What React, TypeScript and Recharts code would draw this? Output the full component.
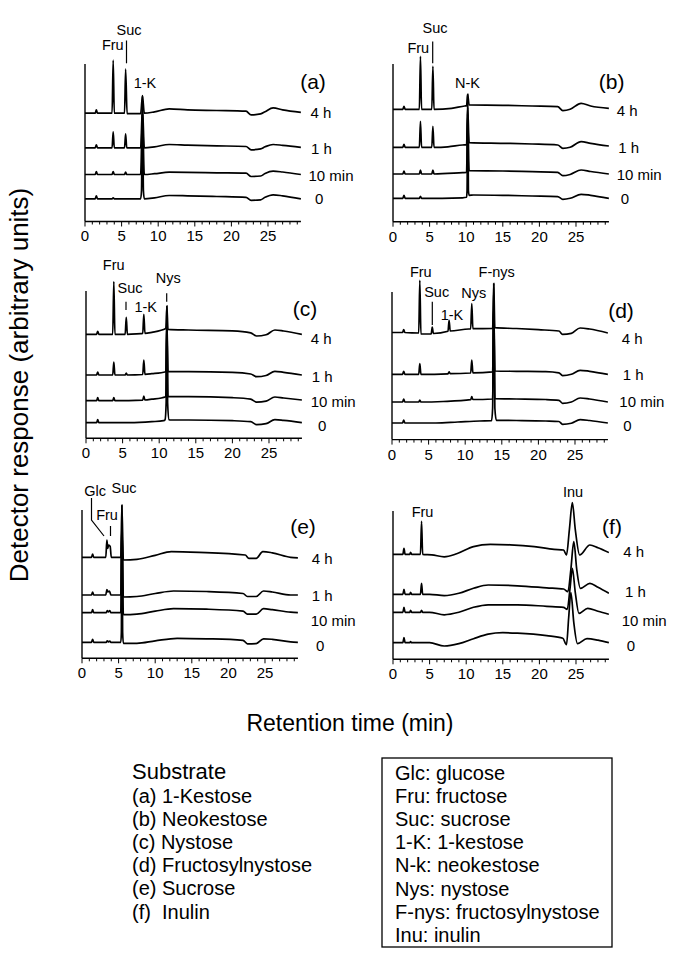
import React from 'react';
import { LineChart, Line, XAxis, YAxis, ReferenceLine } from 'recharts';

type Pt = [number, number];

const FONT = '"Liberation Sans", Arial, Helvetica, sans-serif';

// x-axis ticks (minutes)
const xTicks = [0, 1, 2, 3, 4, 5, 6, 7, 8, 9, 10, 11, 12, 13, 14, 15, 16, 17, 18, 19, 20, 21, 22, 23, 24, 25, 26, 27, 28, 29];
const xMax = 29.5;

// trace order in every panel: 0, 10 min, 1 h, 4 h
const timeLabels = ['0', '10 min', '1 h', '4 h'];

// ---------- Panel (a) 1-Kestose ----------
const offsetsA = [22.7, 47, 73.7, 108.3];
const a0: Pt[] = [[0,0],[1.4,0],[1.55,3],[1.7,0],[3.7,0],[3.85,1],[4.0,0],[7.6,0],[7.72,8],[7.85,103],[7.98,8],[8.1,0],[9.5,1],[11.5,3.3],[14,3],[18,2.3],[22,1.5],[22.7,-1.5],[24,-1],[24.6,1.5],[25.7,4],[27,3],[29.5,0]];
const a10: Pt[] = [[0,0],[1.4,0],[1.55,3],[1.7,0],[3.7,0],[3.85,3],[4.0,0],[5.4,0],[5.55,2.5],[5.7,0],[7.6,0],[7.85,60],[8.1,0],[9.5,0.8],[11.5,2.3],[14,2.2],[18,1.7],[22,1.3],[22.7,-2],[24,-1.5],[24.6,1],[25.7,3.3],[27,2.5],[29.5,0]];
const a1h: Pt[] = [[0,0],[1.4,0],[1.55,3],[1.7,0],[3.7,0],[3.85,16],[4.0,0],[5.4,0],[5.55,14],[5.7,0],[7.6,0],[7.85,40],[8.1,0],[9.5,1],[11.5,3.3],[14,2.7],[18,2],[22,1.3],[22.7,-2],[24,-1],[24.6,1],[25.7,3.3],[27,2.5],[29.5,0.5]];
const a4h: Pt[] = [[0,0],[1.4,0],[1.55,3.3],[1.7,0],[3.7,0],[3.85,53],[4.0,0],[5.4,0],[5.55,44],[5.75,-0.5],[7.6,-0.5],[7.85,17.5],[8.1,0],[9.5,1.3],[11.5,4.3],[14,3.3],[18,2.7],[22,2],[22.7,-1.7],[24,-0.7],[24.6,1.5],[25.7,5.3],[27,3.3],[29.5,0.8]];

// ---------- Panel (b) Neokestose ----------
const offsetsB = [23.4, 47.7, 74.4, 112.4];
const b0: Pt[] = [[0,0],[1.35,0],[1.5,3],[1.65,0],[3.6,0],[3.75,2],[3.9,0],[9.5,0.5],[10.05,1],[10.12,8],[10.2,104],[10.3,8],[10.4,3],[11,3.3],[15,3],[19,2.3],[22.5,1.7],[23.2,-1],[24.2,0],[25.7,4],[27,3],[29.5,0]];
const b10: Pt[] = [[0,0],[1.35,0],[1.5,3],[1.65,0],[3.6,0],[3.75,4],[3.9,0],[5.3,0],[5.45,4],[5.6,0],[9.5,1.3],[10.05,1.5],[10.2,60],[10.4,3.3],[15,3],[19,2.3],[22.5,1.7],[23.2,-1.7],[24.2,-0.5],[25.7,4],[27,2.5],[29.5,0]];
const b1h: Pt[] = [[0,0],[1.35,0],[1.5,3],[1.65,0],[3.6,0],[3.75,26],[3.9,0],[5.3,0],[5.45,21],[5.6,0],[7.5,0.5],[9.5,2.3],[10.05,2.5],[10.2,40],[10.4,4.7],[15,4],[19,3.3],[22.5,2.3],[23.2,-1],[24.2,0],[25.7,5.7],[27,4],[29.5,1.3]];
const b4h: Pt[] = [[0,0],[1.35,0],[1.5,3],[1.65,0],[3.6,0],[3.75,53],[3.9,0],[5.3,0],[5.45,43],[5.6,0],[8,1],[9.8,3.3],[10.05,3.5],[10.2,15],[10.4,4.3],[15,4],[19,3.3],[22.5,2.7],[23.2,-1.3],[24.2,0],[25.7,6],[27,3.3],[29.5,1]];

// ---------- Panel (c) Nystose ----------
const offsetsC = [15.6, 37.6, 63.3, 104];
const c0: Pt[] = [[0,0],[1.45,0],[1.6,3],[1.75,0],[6,0],[9,1],[10.6,2],[10.8,3],[10.95,20],[11.05,116.7],[11.15,20],[11.35,3],[11.6,2.7],[14,2.7],[20,2],[22.5,1],[23.3,-2],[24.6,-1],[25.8,3],[27,2.3],[29.5,0]];
const c10: Pt[] = [[0,0],[1.45,0],[1.6,3],[1.75,0],[3.65,0],[3.8,3],[3.95,0],[7.75,0.5],[7.9,4.5],[8.05,0.7],[9,1.5],[10.9,4],[11.05,80],[11.2,4],[14,4],[20,3],[22.5,1.5],[23.3,-1.5],[24.6,-0.5],[25.8,3.7],[27,2.7],[29.5,0.7]];
const c1h: Pt[] = [[0,0],[1.45,0],[1.6,3],[1.75,0],[3.65,0],[3.8,13],[3.95,0],[5.35,0],[5.5,2],[5.65,0],[7.75,0.5],[7.9,15],[8.05,0.7],[9,1.3],[10.9,3.3],[11.05,55],[11.2,3.3],[14,3.3],[20,2.7],[22.5,1],[23.3,-1.7],[24.6,-0.5],[25.8,3.7],[27,2.7],[29.5,0]];
const c4h: Pt[] = [[0,0],[1.45,0],[1.6,3],[1.75,0],[3.65,0],[3.8,52.7],[3.95,0],[5.35,0],[5.5,17],[5.65,0],[7.5,0.7],[7.75,0.8],[7.9,20],[8.05,1],[9,2],[10.9,5.7],[11.05,28.3],[11.2,5],[14,4.3],[20,3.5],[22.5,1.5],[23.3,-1.7],[24.6,-0.5],[25.8,4.3],[27,3.3],[29.5,0]];

// ---------- Panel (d) Fructosylnystose ----------
const offsetsD = [16.6, 37.6, 65.3, 106.6];
const d0: Pt[] = [[0,0],[1.45,0],[1.6,3],[1.75,0],[6,0],[9,1],[12,2],[13.6,2.3],[13.75,15],[13.9,139.4],[14.05,15],[14.25,2.7],[17,2.5],[21,2],[22.8,1.5],[23.3,-1.3],[24.5,-0.3],[25.7,3.3],[27,2.5],[29.5,0]];
const d10: Pt[] = [[0,0],[1.45,0],[1.6,3],[1.75,0],[3.65,0],[3.8,2],[3.95,0],[7,0.5],[10.75,2.3],[10.9,5.3],[11.05,2.5],[13.75,3],[13.9,100],[14.05,3.3],[17,3],[21,2.5],[22.8,1.7],[23.3,-1.3],[24.5,0],[25.7,4],[27,3],[29.5,0]];
const d1h: Pt[] = [[0,0],[1.45,0],[1.6,3],[1.75,0],[3.65,0],[3.8,10.7],[3.95,0],[7.65,0.5],[7.8,2.5],[7.95,0.7],[10.75,1.3],[10.9,14.3],[11.05,1.5],[13.75,2.5],[13.9,70],[14.05,3.3],[17,3],[21,2.7],[22.8,1.5],[23.3,-1.3],[24.5,0],[25.7,4],[27,3],[29.5,0]];
const d4h: Pt[] = [[0,0.5],[1.45,0.5],[1.6,3.5],[1.75,0.5],[3.65,0],[3.8,52.7],[3.95,-1],[5.35,-1],[5.5,6],[5.65,-0.5],[7.65,1.7],[7.8,12.7],[7.95,2],[10.5,4],[10.75,4],[10.9,29.3],[11.05,4.3],[13.75,4.5],[13.9,49.4],[14.05,5.3],[17,4.5],[20,3.3],[22.8,2],[23.3,-1.3],[24.5,-0.3],[25.7,5],[27,4],[29.5,0]];

// ---------- Panel (e) Sucrose ----------
const offsetsE = [16, 45.6, 63.3, 101];
const e0: Pt[] = [[0,0],[1.3,0],[1.45,3],[1.6,0],[3.3,0],[3.45,1.5],[3.6,0.5],[3.8,1.2],[3.95,0],[5.3,0],[5.38,10],[5.45,137],[5.55,10],[5.65,-1],[7.5,-1],[10,1.5],[13,4],[17,3.5],[22,2],[22.6,-1.5],[23.8,-1.3],[24.8,3.5],[26,3],[28.5,0.5],[29.5,0]];
const e10: Pt[] = [[0,0],[1.3,0],[1.45,3],[1.6,0],[3.3,0],[3.45,2],[3.6,0.8],[3.8,2],[3.95,0],[5.3,0],[5.45,95],[5.65,-2],[7.5,-1.5],[10,1.5],[12.5,4],[17,3.5],[22,1.5],[22.6,-1.5],[23.8,-1.5],[24.8,4],[26,3],[28.5,0.5],[29.5,0]];
const e1h: Pt[] = [[0,0],[1.3,0],[1.45,3],[1.6,0],[3.25,0],[3.4,5.5],[3.55,3],[3.75,4],[3.95,0],[5.3,0],[5.45,70],[5.65,-2],[7.5,-1.5],[10,1.5],[12.5,4],[17,3.5],[22,1.5],[22.6,-1.5],[23.8,-1.5],[24.8,4],[26,3],[28.5,0],[29.5,0]];
const e4h: Pt[] = [[0,0],[1.3,0],[1.45,3.3],[1.6,0],[3.25,0],[3.4,17.3],[3.52,9],[3.65,12.3],[3.85,11],[4.0,0],[5.3,0],[5.45,52.3],[5.65,-2.7],[7.5,-2],[10,2],[12.2,5.7],[16,5],[22.3,2.3],[22.8,-1],[23.8,-1],[24.7,5.7],[26,4.5],[28.5,0],[29.5,-0.5]];

// ---------- Panel (f) Inulin ----------
const offsetsF = [16.6, 47, 65, 105];
const f0: Pt[] = [[0,0],[1.35,0],[1.5,5],[1.65,0],[2.3,0],[2.4,1],[2.55,0],[5,0],[7,-3.3],[9,-1],[11,4],[13,8.5],[15,10],[17,9.5],[21,7],[23.2,4.4],[23.7,-2],[24.0,25],[24.3,50],[24.7,20],[25.2,-1],[26.5,4],[28,2.5],[29.5,0]];
const f10: Pt[] = [[0,0],[1.35,0],[1.5,5],[1.65,0],[2.3,0],[2.4,2],[2.55,0],[3.75,0],[3.9,2],[4.05,0],[5,0],[7,-2.5],[9,0],[11,5],[13,7.5],[17,7.5],[21,6],[23.3,5],[23.8,3],[24.2,25],[24.5,44],[24.9,20],[25.4,-1],[26.6,4],[28,1],[29.5,-2]];
const f1h: Pt[] = [[0,0],[1.35,0],[1.5,5],[1.65,0],[2.3,0],[2.4,2],[2.55,0],[3.75,0],[3.9,11],[4.05,0],[5,0],[7,-1.3],[9,1],[11,6],[13,9.3],[17,8.5],[21,6.5],[23.3,5.3],[23.9,2.7],[24.3,25],[24.7,52.6],[25.1,25],[25.6,6],[26.9,11],[28,7],[29.5,1]];
const f4h: Pt[] = [[0,0],[1.35,0],[1.5,6],[1.65,0],[2.3,0],[2.4,2],[2.55,0],[3.75,0],[3.9,33],[4.05,0],[5.3,-0.5],[7,-2.5],[8.7,0.5],[11,7.7],[13.3,10],[16,9.5],[19.3,7.7],[22,5],[23.3,4.3],[23.7,-0.7],[24.1,25],[24.5,51.6],[24.9,25],[25.5,-0.7],[26.9,9.3],[28,6.5],[29.5,1.7]];

// legend texts
const substrateItems = ['(a) 1-Kestose', '(b) Neokestose', '(c) Nystose', '(d) Fructosylnystose', '(e) Sucrose', '(f)  Inulin'];
const abbrevItems = ['Glc: glucose', 'Fru: fructose', 'Suc: sucrose', '1-K: 1-kestose', 'N-k: neokestose', 'Nys: nystose', 'F-nys: fructosylnystose', 'Inu: inulin'];

// ---------- layout (page pixels) ----------
const PX_PER_MIN = 7.32;
const EXTRA = 48;

type PanelCfg = {
  left: number; top: number; ph: number;
  traces: Pt[][]; offsets: number[];
  letter: string; letterPos: [number, number];
  timePos: [number, number][];
  peaks: { text: string; x: number; y: number }[];
  leaders: [number, number][][];
};

const panels: PanelCfg[] = [
  {
    left: 85, top: 63.5, ph: 157.5, traces: [a0, a10, a1h, a4h], offsets: offsetsA,
    letter: '(a)', letterPos: [313, 81],
    timePos: [[315, 198.5], [308.5, 175], [311, 148], [310.5, 112]],
    peaks: [{ text: 'Suc', x: 129, y: 30 }, { text: 'Fru', x: 112.8, y: 45 }, { text: '1-K', x: 145, y: 83 }],
    leaders: [[[126.5, 40.5], [126.5, 63.3]]],
  },
  {
    left: 392.7, top: 64, ph: 157.7, traces: [b0, b10, b1h, b4h], offsets: offsetsB,
    letter: '(b)', letterPos: [611.7, 81.7],
    timePos: [[620.7, 198.3], [616.7, 174], [618.3, 147.3], [616.7, 110]],
    peaks: [{ text: 'Suc', x: 435, y: 28.3 }, { text: 'Fru', x: 418.3, y: 48.3 }, { text: 'N-K', x: 467.5, y: 83.3 }],
    leaders: [[[432.7, 41.5], [432.7, 63.3]]],
  },
  {
    left: 85.7, top: 291, ph: 147.3, traces: [c0, c10, c1h, c4h], offsets: offsetsC,
    letter: '(c)', letterPos: [305, 308.3],
    timePos: [[318, 425], [310.7, 401.7], [311.7, 376.7], [310.7, 338.3]],
    peaks: [{ text: 'Fru', x: 113.7, y: 265 }, { text: 'Suc', x: 130, y: 288.3 }, { text: '1-K', x: 145.7, y: 306.7 }, { text: 'Nys', x: 168.3, y: 278.3 }],
    leaders: [[[126, 301.7], [126, 310]], [[166.7, 293.3], [166.7, 301.7]]],
  },
  {
    left: 391.7, top: 291.7, ph: 147.6, traces: [d0, d10, d1h, d4h], offsets: offsetsD,
    letter: '(d)', letterPos: [621, 310],
    timePos: [[623.3, 425], [619.3, 401.7], [622.7, 374], [621.7, 338.3]],
    peaks: [{ text: 'Fru', x: 420.8, y: 271.7 }, { text: 'Suc', x: 436.7, y: 291.7 }, { text: '1-K', x: 452, y: 315 }, { text: 'Nys', x: 473.8, y: 293.3 }, { text: 'F-nys', x: 496.7, y: 271.7 }],
    leaders: [[[432.3, 301.7], [432.3, 325]]],
  },
  {
    left: 81.5, top: 510, ph: 148.3, traces: [e0, e10, e1h, e4h], offsets: offsetsE,
    letter: '(e)', letterPos: [303, 526],
    timePos: [[316, 645], [310.7, 620], [311.7, 595.7], [311.7, 558.3]],
    peaks: [{ text: 'Glc', x: 95, y: 490.5 }, { text: 'Suc', x: 124, y: 488 }, { text: 'Fru', x: 107, y: 515 }],
    leaders: [[[91.5, 498], [91.5, 520], [104, 536]], [[110.5, 526], [110.5, 536]]],
  },
  {
    left: 393.3, top: 511, ph: 148.3, traces: [f0, f10, f1h, f4h], offsets: offsetsF,
    letter: '(f)', letterPos: [612, 526],
    timePos: [[626.7, 645], [621.7, 620], [625, 591.7], [623.3, 551.7]],
    peaks: [{ text: 'Fru', x: 422.5, y: 511.7 }, { text: 'Inu', x: 573, y: 491.7 }],
    leaders: [],
  },
];

const AxisTick = (props: any) => {
  const { x, y, payload } = props;
  const v = payload.value as number;
  const major = v % 5 === 0;
  return (
    <g>
      <line x1={x} x2={x} y1={y} y2={y + (major ? 5 : 3)} stroke="#000" strokeWidth={1} />
      {major && (
        <text x={x} y={y + 20} textAnchor="middle" fontSize={15} fill="#000" fontFamily={FONT}>
          {v}
        </text>
      )}
    </g>
  );
};

function Panel({ cfg }: { cfg: PanelCfg }) {
  const ml = 12, mr = 4, mt = 2, xh = 28;
  const pw = xMax * PX_PER_MIN;
  const W = ml + pw + mr;
  const H = mt + cfg.ph + EXTRA + xh;
  return (
    <div style={{ position: 'absolute', left: cfg.left - ml, top: cfg.top - EXTRA - mt, width: W, height: H }}>
      <LineChart width={W} height={H} margin={{ top: mt, right: mr, left: ml, bottom: 0 }}>
        <XAxis
          dataKey="t"
          type="number"
          domain={[0, xMax]}
          ticks={xTicks}
          interval={0}
          allowDataOverflow
          tickLine={false}
          tickSize={0}
          tickMargin={0}
          height={xh}
          axisLine={{ stroke: '#000', strokeWidth: 1.4 }}
          tick={<AxisTick />}
        />
        <YAxis type="number" domain={[0, cfg.ph + EXTRA]} allowDataOverflow hide />
        <ReferenceLine
          segment={[{ x: 0, y: 0 }, { x: 0, y: cfg.ph }]}
          stroke="#000"
          strokeWidth={1.4}
          ifOverflow="visible"
        />
        {cfg.traces.map((tr, i) => (
          <Line
            key={i}
            name={timeLabels[i]}
            data={tr.map(([t, v]) => ({ t, v: cfg.offsets[i] + v }))}
            dataKey="v"
            type="monotone"
            dot={false}
            activeDot={false}
            stroke="#000"
            strokeWidth={1.7}
            isAnimationActive={false}
          />
        ))}
      </LineChart>
    </div>
  );
}

export default function App() {
  return (
    <div style={{ position: 'absolute', left: 0, top: 0, width: 685, height: 959, background: '#fff', fontFamily: FONT }}>
      {panels.map((p, i) => (
        <Panel key={i} cfg={p} />
      ))}
      <svg width={685} height={959} style={{ position: 'absolute', left: 0, top: 0, pointerEvents: 'none', whiteSpace: 'pre' }} fontFamily={FONT}>
        {panels.map((p, i) => (
          <g key={i}>
            <text x={p.letterPos[0]} y={p.letterPos[1]} textAnchor="middle" dominantBaseline="central" fontSize={21}>
              {p.letter}
            </text>
            {p.timePos.map((tp, j) => (
              <text key={j} x={tp[0]} y={tp[1]} dominantBaseline="central" fontSize={15}>
                {timeLabels[j]}
              </text>
            ))}
            {p.peaks.map((pk, j) => (
              <text key={j} x={pk.x} y={pk.y} textAnchor="middle" dominantBaseline="central" fontSize={14.5}>
                {pk.text}
              </text>
            ))}
            {p.leaders.map((ld, j) => (
              <polyline key={j} points={ld.map((q) => q.join(',')).join(' ')} fill="none" stroke="#000" strokeWidth={1.2} />
            ))}
          </g>
        ))}
        <text x={19} y={385} transform="rotate(-90 19 385)" textAnchor="middle" dominantBaseline="central" fontSize={26}>
          Detector response (arbitrary units)
        </text>
        <text x={350} y={723} textAnchor="middle" dominantBaseline="central" fontSize={23}>
          Retention time (min)
        </text>
        <text x={132} y={771} dominantBaseline="central" fontSize={22}>
          Substrate
        </text>
        {substrateItems.map((s, i) => (
          <text key={i} x={132} y={796 + i * 23.1} dominantBaseline="central" fontSize={20} style={{ whiteSpace: 'pre' }}>
            {s}
          </text>
        ))}
        <rect x={382} y={758} width={230} height={189} fill="none" stroke="#000" strokeWidth={1.3} />
        {abbrevItems.map((s, i) => (
          <text key={i} x={395} y={773 + i * 23.1} dominantBaseline="central" fontSize={20}>
            {s}
          </text>
        ))}
      </svg>
    </div>
  );
}
